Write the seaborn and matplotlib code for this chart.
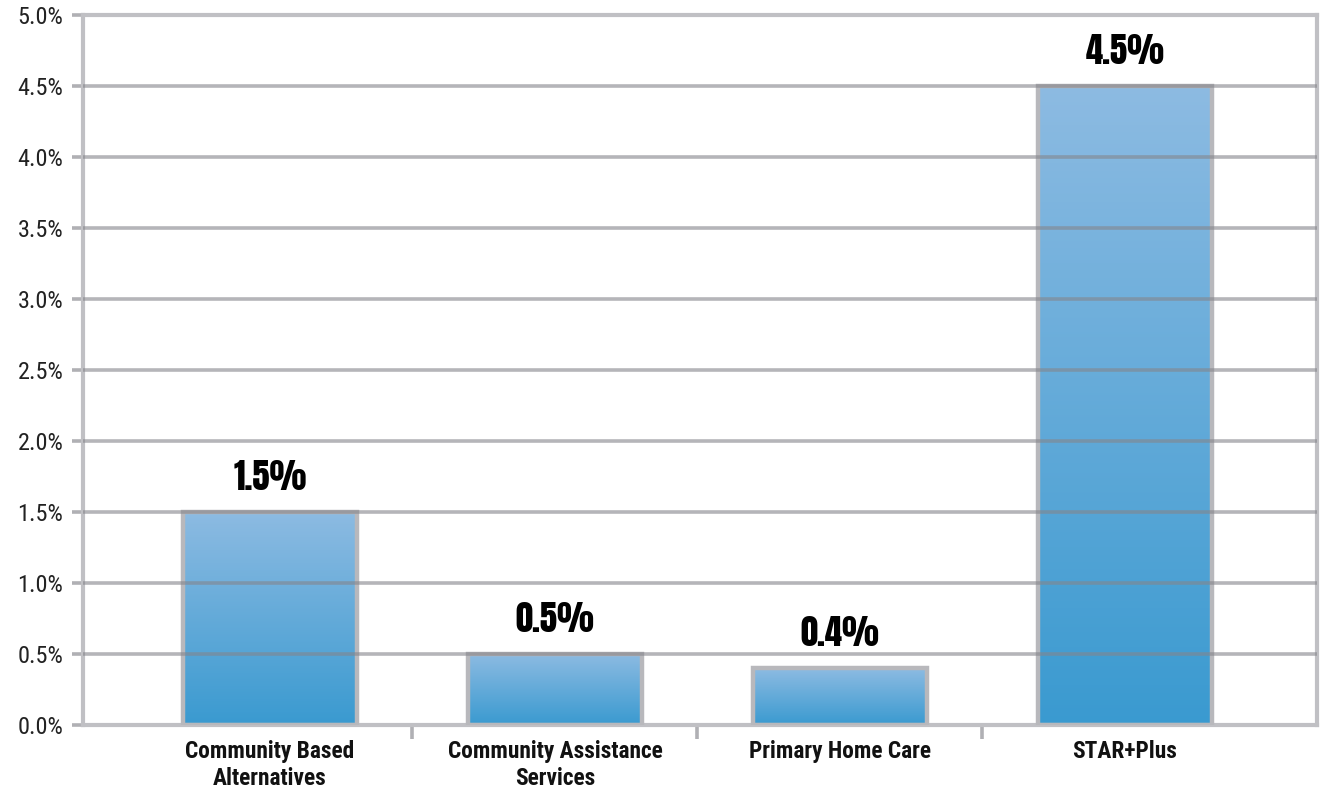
import numpy as np
import pandas as pd
import matplotlib
matplotlib.use("Agg")
import matplotlib.pyplot as plt
import seaborn as sns
from matplotlib.colors import LinearSegmentedColormap
from matplotlib.ticker import FixedLocator, FuncFormatter

categories = ["Community Based\nAlternatives", "Community Assistance\nServices",
              "Primary Home Care", "STAR+Plus"]
values = [1.5, 0.5, 0.4, 4.5]
value_labels = ["1.5%", "0.5%", "0.4%", "4.5%"]
y_ticks = [0.0, 0.5, 1.0, 1.5, 2.0, 2.5, 3.0, 3.5, 4.0, 4.5, 5.0]

sns.set_theme(style="white")
COND = ["Roboto Condensed", "Archivo Narrow", "PT Sans Narrow",
        "IBM Plex Sans Condensed", "DejaVu Sans"]
HEAVY = ["Anton", "Oswald", "IBM Plex Sans Condensed", "DejaVu Sans"]
plt.rcParams["font.family"] = COND

fig = plt.figure(figsize=(13.27, 7.89), dpi=100)
ax = fig.add_axes([0.0625, 0.0811, 0.93, 0.9])

df = pd.DataFrame({"cat": categories, "val": values})
sns.barplot(data=df, x="cat", y="val", ax=ax, width=0.61, color="#5aa5d8",
            edgecolor="#b8b8bc", linewidth=3.2, zorder=3)

cmap = LinearSegmentedColormap.from_list("g", ["#3a9ad0", "#8dbbe2"])
grad = np.linspace(0, 1, 256).reshape(-1, 1)
for p in ax.patches:
    x0, y0 = p.get_x(), p.get_y()
    w, h = p.get_width(), p.get_height()
    im = ax.imshow(grad, cmap=cmap, origin="lower", aspect="auto",
                   extent=[x0, x0 + w, y0, y0 + h], zorder=2.5)
    im.set_clip_path(p)
    p.set_facecolor("none")

for yv in y_ticks[1:-1]:
    ax.axhline(yv, color="#85858b", alpha=0.6, lw=2.6, zorder=4)

ax.set_xlim(-0.656, 3.674)
ax.set_ylim(0, 5.0)

for s in ax.spines.values():
    s.set_color("#c0c0c4")
    s.set_linewidth(3)
    s.set_visible(True)

ax.yaxis.set_major_locator(FixedLocator(y_ticks))
ax.yaxis.set_major_formatter(FuncFormatter(lambda v, _: f"{v:.1f}%"))
ax.tick_params(axis="y", which="major", length=8, width=2.6, color="#b0b0b4",
               direction="out", labelsize=17.5, labelcolor="#222222", pad=6, left=True)
ax.tick_params(axis="x", which="major", length=0, labelsize=16.8, pad=11)
ax.xaxis.set_minor_locator(FixedLocator([0.5, 1.5, 2.5]))
ax.tick_params(axis="x", which="minor", length=10, width=2.6, color="#b0b0b4",
               direction="out", bottom=True)
for lab in ax.get_xticklabels():
    lab.set_fontweight("bold")
    lab.set_color("#111111")
    lab.set_linespacing(1.22)

ax.set_xlabel("")
ax.set_ylabel("")

for i, (v, t) in enumerate(zip(values, value_labels)):
    ax.annotate(t, (i, v), xytext=(0, 13), textcoords="offset points",
                ha="center", va="bottom", fontsize=25, family=HEAVY,
                color="black", zorder=5)

fig.savefig("out.png", dpi=100)
